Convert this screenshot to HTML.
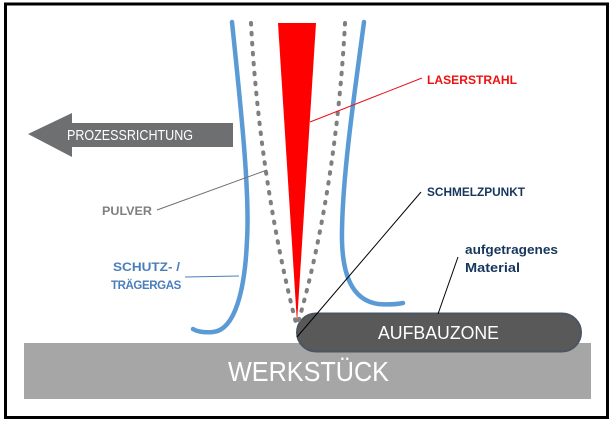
<!DOCTYPE html>
<html>
<head>
<meta charset="utf-8">
<style>
  html, body { margin:0; padding:0; background:#ffffff; }
  svg { display:block; }
  text { font-family: "Liberation Sans", "DejaVu Sans", sans-serif; }
</style>
</head>
<body>
<svg width="616" height="427" viewBox="0 0 616 427" xmlns="http://www.w3.org/2000/svg">
  <rect x="0" y="0" width="616" height="427" fill="#ffffff"/>
  <!-- frame -->
  <rect x="5.5" y="4" width="602" height="413.5" fill="#ffffff" stroke="#000000" stroke-width="3"/>

  <!-- Werkstück bar -->
  <rect x="24" y="343" width="567" height="56" fill="#a6a6a6"/>
  <text x="228" y="381" font-size="28" fill="#ffffff" textLength="161" lengthAdjust="spacingAndGlyphs">WERKSTÜCK</text>

  <!-- Aufbauzone pill -->
  <rect x="297" y="313.5" width="284" height="38" rx="19" ry="19" fill="#595959" stroke="#4b5563" stroke-width="2"/>
  <text x="378" y="339" font-size="18" fill="#ffffff" textLength="121" lengthAdjust="spacingAndGlyphs">AUFBAUZONE</text>

  <!-- Prozessrichtung arrow -->
  <polygon points="28,134 72,113 72,123 233,123 233,147 72,147 72,157" fill="#6e6f71"/>
  <text x="67" y="140" font-size="15" fill="#ffffff" textLength="126" lengthAdjust="spacingAndGlyphs">PROZESSRICHTUNG</text>

  <!-- red laser beam -->
  <polygon points="278,23 316,23 297,323" fill="#ff0000"/>

  <!-- powder dotted lines -->
  <path d="M251,23 C256,120 272,230 296,323" fill="none" stroke="#7f7f7f" stroke-width="4" stroke-linecap="round" stroke-dasharray="1.5 8.5"/>
  <path d="M345,23 C340,120 325,230 298,323" fill="none" stroke="#7f7f7f" stroke-width="4" stroke-linecap="round" stroke-dasharray="1.5 8.5"/>

  <!-- blue gas curves -->
  <path d="M232,22 C240,100 250,190 247,240 C245,290 235,330 213,332 C203,333 196,331 193,329" fill="none" stroke="#5b9bd5" stroke-width="4.5" stroke-linecap="round"/>
  <path d="M364,22 C355,90 343,170 342,230 C341,275 352,300 378,304 C390,305 398,304 403,303" fill="none" stroke="#5b9bd5" stroke-width="4.5" stroke-linecap="round"/>

  <!-- connector lines -->
  <line x1="422" y1="78" x2="310" y2="122" stroke="#e8101c" stroke-width="1"/>
  <line x1="421" y1="192" x2="297" y2="337" stroke="#000000" stroke-width="1"/>
  <line x1="458" y1="257" x2="438" y2="314" stroke="#000000" stroke-width="1"/>
  <line x1="157" y1="210" x2="267" y2="170" stroke="#6f6f6f" stroke-width="1"/>
  <line x1="185" y1="277" x2="239" y2="276" stroke="#4a7ebb" stroke-width="1"/>

  <!-- labels -->
  <text x="427" y="84" font-size="12" font-weight="bold" fill="#ee1111" textLength="90" lengthAdjust="spacingAndGlyphs">LASERSTRAHL</text>
  <text x="427" y="196" font-size="12" font-weight="bold" fill="#17365d" textLength="98" lengthAdjust="spacingAndGlyphs">SCHMELZPUNKT</text>
  <text x="465" y="254" font-size="12.5" font-weight="bold" fill="#17365d" textLength="93" lengthAdjust="spacingAndGlyphs">aufgetragenes</text>
  <text x="465" y="272" font-size="12.5" font-weight="bold" fill="#17365d" textLength="55" lengthAdjust="spacingAndGlyphs">Material</text>
  <text x="102" y="215" font-size="12" font-weight="bold" fill="#7f7f7f" textLength="50" lengthAdjust="spacingAndGlyphs">PULVER</text>
  <text x="113" y="271" font-size="12" font-weight="bold" fill="#4a7ebb" textLength="67" lengthAdjust="spacingAndGlyphs">SCHUTZ- /</text>
  <text x="111" y="289" font-size="11.5" font-weight="bold" fill="#4a7ebb" letter-spacing="-0.4">TRÄGERGAS</text>
</svg>
</body>
</html>
